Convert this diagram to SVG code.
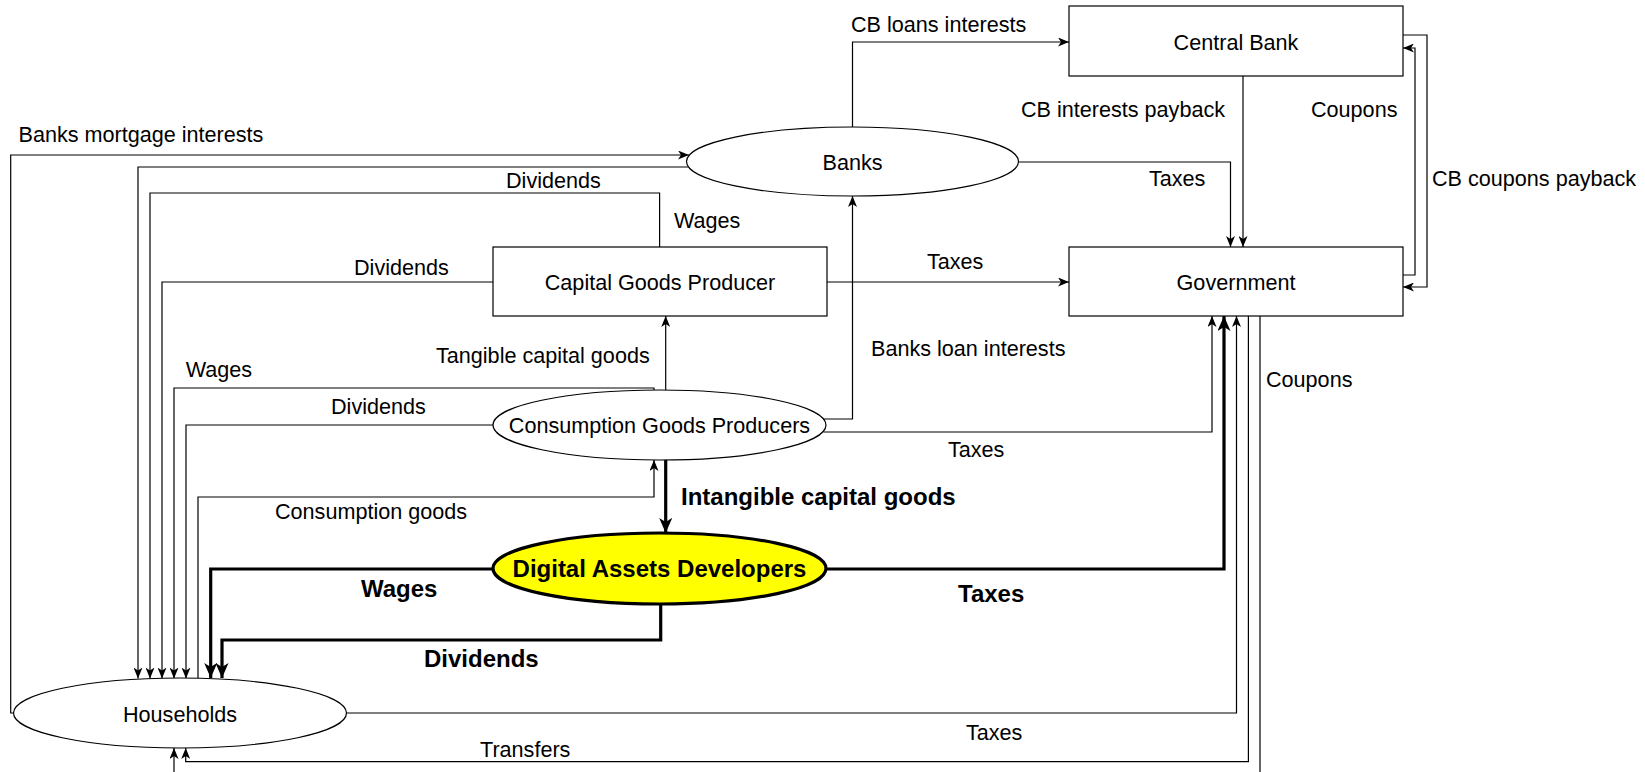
<svg xmlns="http://www.w3.org/2000/svg" width="1645" height="772" viewBox="0 0 1645 772">
<style>
text{font-family:"Liberation Sans",Arial,sans-serif;fill:#000}
.l{font-size:21.6px}
.b{font-size:24px;font-weight:bold}
.n{font-size:21.6px;text-anchor:middle}
.nb{font-size:24px;font-weight:bold;text-anchor:middle}
.box{fill:#fff;stroke:#000;stroke-width:1.2}
.c{fill:none;stroke:#000;stroke-width:1.2;marker-end:url(#a)}
.t{fill:none;stroke:#000;stroke-width:3.2;marker-end:url(#b)}
</style>
<defs>
<marker id="a" viewBox="0 0 11 9" refX="11" refY="4.5" markerWidth="11" markerHeight="9" orient="auto" markerUnits="userSpaceOnUse"><path d="M0,0 L11,4.5 L0,9 L3,4.5 z" fill="#000"/></marker>
<marker id="b" viewBox="0 0 15 13" refX="15" refY="6.5" markerWidth="15" markerHeight="13" orient="auto" markerUnits="userSpaceOnUse"><path d="M0,0 L15,6.5 L0,13 L4,6.5 z" fill="#000"/></marker>
</defs>
<rect width="1645" height="772" fill="#fff"/>
<g id="connectors">
<path class="c" d="M852.5,127 V42 H1069"/>
<path class="c" d="M1243,76 V247"/>
<path class="c" d="M1018.5,162 H1230.5 V247"/>
<path class="c" d="M1403,275 H1415 V48 H1403"/>
<path class="c" d="M1403,35 H1427 V287 H1403"/>
<path class="c" d="M13.5,713 H10.7 V155 H689"/>
<path class="c" d="M688.6,167 H138 V678.5"/>
<path class="c" d="M659.6,247 V193 H150 V678.5"/>
<path class="c" d="M493,282 H162 V678.5"/>
<path class="c" d="M654,390 V388 H174 V678.5"/>
<path class="c" d="M493,425 H186 V678.5"/>
<path class="c" d="M198,678.5 V497 H654 V460"/>
<path class="c" d="M665.7,390 V316"/>
<path class="c" d="M823.5,419 H852.5 V196"/>
<path class="c" d="M823.5,432 H1212 V316"/>
<path class="c" d="M827,282 H1069"/>
<path class="c" d="M346.5,713 H1236.5 V316"/>
<path class="c" d="M1248.4,316 V761.7 H185.7 V748"/>
<path class="c" d="M1260,316 V790 H174 V748"/>
<path class="t" d="M665.7,460 V533"/>
<path class="t" d="M493,569 H210.7 V678"/>
<path class="t" d="M660.7,604 V640 H222 V678"/>
<path class="t" d="M826,569 H1224 V316"/>
</g>
<g id="labels">
<text class="l" x="18.5" y="142">Banks mortgage interests</text>
<text class="l" x="851" y="32">CB loans interests</text>
<text class="l" x="1021" y="117">CB interests payback</text>
<text class="l" x="1311" y="117">Coupons</text>
<text class="l" x="1432" y="186">CB coupons payback</text>
<text class="l" x="1149" y="186">Taxes</text>
<text class="l" x="506" y="188">Dividends</text>
<text class="l" x="674" y="228">Wages</text>
<text class="l" x="354" y="275">Dividends</text>
<text class="l" x="927" y="269">Taxes</text>
<text class="l" x="436" y="363">Tangible capital goods</text>
<text class="l" x="871" y="356">Banks loan interests</text>
<text class="l" x="185.7" y="377">Wages</text>
<text class="l" x="331" y="414">Dividends</text>
<text class="l" x="948" y="457">Taxes</text>
<text class="l" x="275" y="519">Consumption goods</text>
<text class="l" x="1266" y="387">Coupons</text>
<text class="l" x="966" y="740">Taxes</text>
<text class="l" x="480" y="757">Transfers</text>
<text class="b" x="681" y="505">Intangible capital goods</text>
<text class="b" x="361" y="597">Wages</text>
<text class="b" x="424" y="667">Dividends</text>
<text class="b" x="958" y="602">Taxes</text>
</g>
<g id="central-bank">
<rect class="box" x="1069" y="6" width="334" height="70"/>
<text class="n" x="1236" y="50">Central Bank</text>
</g>
<g id="government">
<rect class="box" x="1069" y="247" width="334" height="69"/>
<text class="n" x="1236" y="290">Government</text>
</g>
<g id="banks">
<ellipse class="box" cx="852.5" cy="161.5" rx="166" ry="34.5"/>
<text class="n" x="852.5" y="170">Banks</text>
</g>
<g id="capital-goods-producer">
<rect class="box" x="493" y="247" width="334" height="69"/>
<text class="n" x="660" y="290">Capital Goods Producer</text>
</g>
<g id="consumption-goods-producers">
<ellipse class="box" cx="659.5" cy="425" rx="166.5" ry="35"/>
<text class="n" x="659.5" y="433">Consumption Goods Producers</text>
</g>
<g id="digital-assets-developers">
<ellipse cx="659.5" cy="568.5" rx="166.5" ry="35.5" fill="#ffff00" stroke="#000" stroke-width="3.2"/>
<text class="nb" x="659.5" y="577">Digital Assets Developers</text>
</g>
<g id="households">
<ellipse class="box" cx="180" cy="713" rx="166.5" ry="35"/>
<text class="n" x="180" y="721.5">Households</text>
</g>
</svg>
